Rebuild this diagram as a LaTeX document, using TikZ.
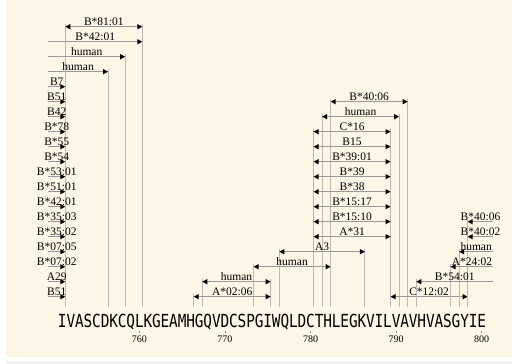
\documentclass[tikz,border=0pt]{standalone}
\usepackage{fontspec}
\setmainfont{Liberation Serif}
\newfontfamily\seqfont{DejaVu Sans Mono}
\usetikzlibrary{arrows.meta}
\definecolor{paper}{RGB}{253,246,231}
\newcommand{\resx}[1]{65.3+8.56*((#1)-751)}
\newcommand{\rowy}[1]{26.7+15*(#1)}
\tikzset{
  epiline/.style={line width=1.1pt, draw=black!40},
  dropline/.style={line width=1.1pt, draw=black!28, shorten <=-3pt},
  tipboth/.style={{Triangle[length=5pt,width=5pt,color=black]}-{Triangle[length=5pt,width=5pt,color=black]}},
  tipright/.style={-{Triangle[length=5pt,width=5pt,color=black]}},
  tipleft/.style={{Triangle[length=5pt,width=5pt,color=black]}-},
  epilabel/.style={midway, anchor=base, yshift=1.5pt, inner sep=0pt, font=\fontsize{11.5}{12}\selectfont},
  seqres/.style={inner sep=0pt, text height=13pt, text depth=0pt, font=\seqfont\fontsize{18}{18}\selectfont},
  ticklab/.style={inner sep=1pt, font=\fontsize{10}{10}\selectfont},
  tickmark/.style={line width=0.6pt, draw=black!45, shorten <=3pt, shorten >=1pt}
}

\begin{document}
\begin{tikzpicture}[x=1pt, y=-1pt]
  \useasboundingbox (0,0) rectangle (512,364);
  \fill[paper] (6,0) rectangle (512,357);
  \fill[black!5] (6,361) rectangle (512,364);
  \coordinate (seqtop) at (0,307);

  \foreach \c [count=\i from 0] in {I,V,A,S,C,D,K,C,Q,L,K,G,E,A,M,H,G,Q,V,D,C,S,P,G,I,W,Q,L,D,C,T,H,L,E,G,K,V,I,L,V,A,V,H,V,A,S,G,Y,I,E}
    \node[seqres] (s\i) at ({62.3+8.56*\i},321) {\scalebox{0.8}[1]{\c}};

  \foreach \v in {760,770,780,790,800}{
    \pgfmathtruncatemacro{\p}{\v-751}
    \node[ticklab] (t\v) at ({62.3+8.56*\p},339) {\v};
    \draw[tickmark] (s\p.south) -- (t\v.north);
  }

  \foreach \k/\a/\b/\lab [count=\n] in {0/751/760/B*81:01, 5/782/791/B*40:06, 6/781/790/human,
      7/780/789/C*16, 8/780/789/B15, 9/780/789/B*39:01, 10/780/789/B*39, 11/780/789/B*38,
      12/780/789/B*15:17, 13/780/789/B*15:10, 14/780/789/A*31, 15/776/786/A3,
      16/773/782/human, 17/767/775/human, 18/766/775/A*02:06, 18/789/798/C*12:02}{
    \coordinate (bl\n) at ({\resx{\a}},{\rowy{\k}});
    \coordinate (br\n) at ({\resx{\b}},{\rowy{\k}});
    \draw[dropline] (bl\n) -- (bl\n |- seqtop);
    \draw[dropline] (br\n) -- (br\n |- seqtop);
    \draw[epiline, tipboth] (bl\n) -- node[epilabel] (bt\n) {\lab} (br\n);
  }

  \foreach \k/\b/\lab [count=\n] in {1/760/B*42:01, 2/758/human, 3/756/human, 4/751/B7, 5/751/B51,
      6/751/B42, 7/751/B*78, 8/751/B*55, 9/751/B*54, 10/751/B*53:01, 11/751/B*51:01,
      12/751/B*42:01, 13/751/B*35:03, 14/751/B*35:02, 15/751/B*07:05, 16/751/B*07:02,
      17/751/A29, 18/751/B51}{
    \coordinate (ll\n) at ({\resx{749}},{\rowy{\k}});
    \coordinate (lr\n) at ({\resx{\b}},{\rowy{\k}});
    \draw[dropline] (lr\n) -- (lr\n |- seqtop);
    \draw[epiline, tipright] (ll\n) -- node[epilabel] (lt\n) {\lab} (lr\n);
  }

  \foreach \k/\a/\lab [count=\n] in {13/798/B*40:06, 14/798/B*40:02, 15/797/human,
      16/796/A*24:02, 17/792/B*54:01}{
    \coordinate (rl\n) at ({\resx{\a}},{\rowy{\k}});
    \coordinate (rr\n) at ({\resx{801}},{\rowy{\k}});
    \draw[dropline] (rl\n) -- (rl\n |- seqtop);
    \draw[epiline, tipleft] (rl\n) -- node[epilabel] (rt\n) {\lab} (rr\n);
  }
\end{tikzpicture}
\end{document}
